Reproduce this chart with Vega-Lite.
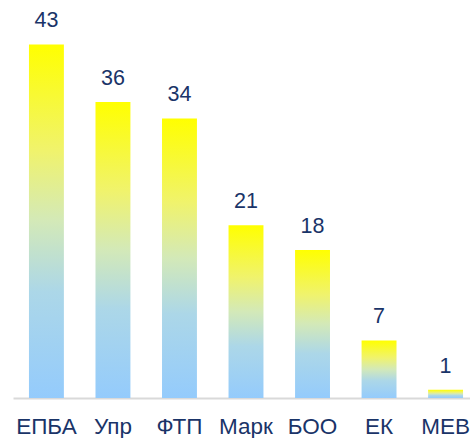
{
  "$schema": "https://vega.github.io/schema/vega-lite/v6.json",
  "width": 466,
  "height": 398,
  "autosize": "none",
  "padding": {"left": 13, "top": 0, "right": 0, "bottom": 40},
  "background": "white",
  "config": {"view": {"stroke": null}, "font": "Liberation Sans"},
  "data": {"values": [
    {"cat": "ЕПБА", "v": 43},
    {"cat": "Упр", "v": 36},
    {"cat": "ФТП", "v": 34},
    {"cat": "Марк", "v": 21},
    {"cat": "БОО", "v": 18},
    {"cat": "ЕК", "v": 7},
    {"cat": "МЕВ", "v": 1}
  ]},
  "encoding": {
    "x": {"field": "cat", "type": "nominal", "sort": null,
      "scale": {"paddingInner": 0.475, "paddingOuter": 0.24},
      "axis": {"title": null, "labelAngle": 0, "ticks": false, "domainColor": "#d9d9d9", "domainWidth": 2,
        "labelFontSize": 22.5, "labelColor": "#1a3468", "labelFont": "Liberation Sans", "labelPadding": 35, "labelBaseline": "alphabetic"}},
    "y": {"field": "v", "type": "quantitative", "scale": {"domain": [0, 48.4], "nice": false}, "axis": null}
  },
  "layer": [
    {"mark": {"type": "bar", "color": {"gradient": "linear", "x1": 0, "y1": 0, "x2": 0, "y2": 1,
      "stops": [{"offset": 0, "color": "#ffff00"}, {"offset": 0.3, "color": "#f0f36c"}, {"offset": 0.5, "color": "#d3e9b8"}, {"offset": 0.7, "color": "#acd7e8"}, {"offset": 1, "color": "#94cbfc"}]}}},
    {"mark": {"type": "text", "baseline": "alphabetic", "dy": -17, "fontSize": 21.5, "color": "#1a3468", "font": "Liberation Sans"},
      "encoding": {"text": {"field": "v", "type": "quantitative"}}}
  ]
}
